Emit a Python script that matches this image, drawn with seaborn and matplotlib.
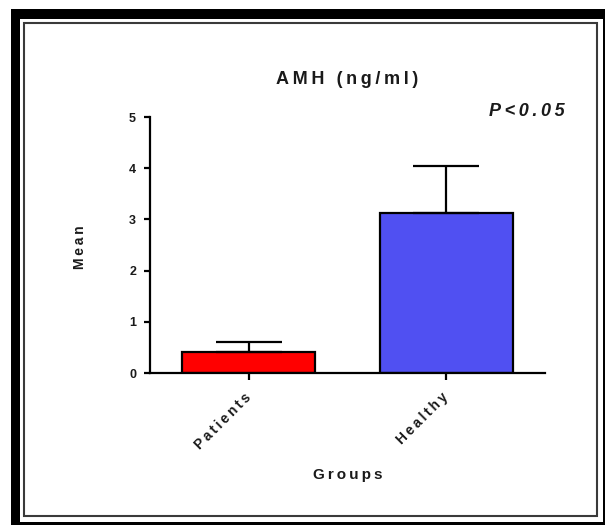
import matplotlib
matplotlib.use('Agg')
import matplotlib.pyplot as plt
import seaborn as sns
from matplotlib.patches import Rectangle

groups = ['Patients', 'Healthy']
means = [0.41, 3.13]
sem = [0.19, 0.92]
bar_colors = ['#FF0000', '#5050F2']
y_ticks = [0, 1, 2, 3, 4, 5]

W, H = 605, 525
TS = '\u2009'  # thin space, used to mimic the letter spacing of the original
TXT = '#1a1a1a'


def spaced(s, sep=TS):
    return sep.join(s)


sns.set_theme(style='white')
plt.rcParams['font.family'] = ['Liberation Sans', 'DejaVu Sans']
plt.rcParams['font.weight'] = 'bold'

fig = plt.figure(figsize=(W / 100, H / 100), dpi=100)
ax = fig.add_axes([150 / W, 1 - 373 / H, 395 / W, 256 / H])


def px_rect(x0, y0, x1, y1, **kw):
    return Rectangle((x0 / W, 1 - y1 / H), (x1 - x0) / W, (y1 - y0) / H,
                     transform=fig.transFigure, **kw)


# picture frame
fig.add_artist(px_rect(11, 9, 605, 525, facecolor='black', edgecolor='none', zorder=-10))
fig.add_artist(px_rect(20, 19, 603, 522, facecolor='white', edgecolor='none', zorder=-9))
fig.add_artist(px_rect(23.5, 22.5, 597, 516, facecolor='white', edgecolor='#3a3a3a',
                       linewidth=1.5, zorder=-8))

sns.barplot(x=groups, y=means, hue=groups, palette=bar_colors, legend=False, saturation=1,
            width=0.675, edgecolor='black', linewidth=1.6, errorbar=None, ax=ax)
ax.errorbar(x=range(len(groups)), y=means, yerr=[[0] * len(sem), sem], fmt='none',
            ecolor='black', elinewidth=1.6, capsize=24, capthick=1.6, zorder=1)

ax.set_facecolor('white')
ax.set_xlim(-0.5, 1.5)
ax.set_ylim(0, 5)
ax.set_yticks(y_ticks)
ax.set_yticklabels([str(t) for t in y_ticks], fontsize=9, fontweight='bold', color=TXT)
ax.set_xticks(range(len(groups)))
ax.set_xticklabels([spaced(g) for g in groups], rotation=45, ha='right', va='center',
                   rotation_mode='anchor', fontsize=10, fontweight='bold', color=TXT)
for s in ['top', 'right']:
    ax.spines[s].set_visible(False)
for s in ['left', 'bottom']:
    ax.spines[s].set_linewidth(1.6)
    ax.spines[s].set_color('black')
ax.tick_params(axis='y', length=4, width=1.6, pad=6, left=True, color='black')
ax.tick_params(axis='x', length=5, width=1.6, pad=11, bottom=True, color='black')

ax.set_ylabel(spaced('Mean'), fontsize=10, fontweight='bold', color=TXT)
ax.yaxis.set_label_coords(-0.16, 0.49)
ax.set_xlabel(spaced('Groups'), fontsize=11, fontweight='bold', color=TXT)
ax.xaxis.set_label_coords(0.5, -0.37)

ax.text(0.5, 1.145, spaced('AMH (ng/ml)'), transform=ax.transAxes, ha='center', va='center',
        fontsize=13, fontweight='bold', color=TXT)
ax.text(1.05, 1.023, spaced('P<0.05'), transform=ax.transAxes, ha='right', va='center',
        fontsize=13, fontweight='bold', fontstyle='italic', color=TXT)

plt.savefig('out.png', dpi=100)
